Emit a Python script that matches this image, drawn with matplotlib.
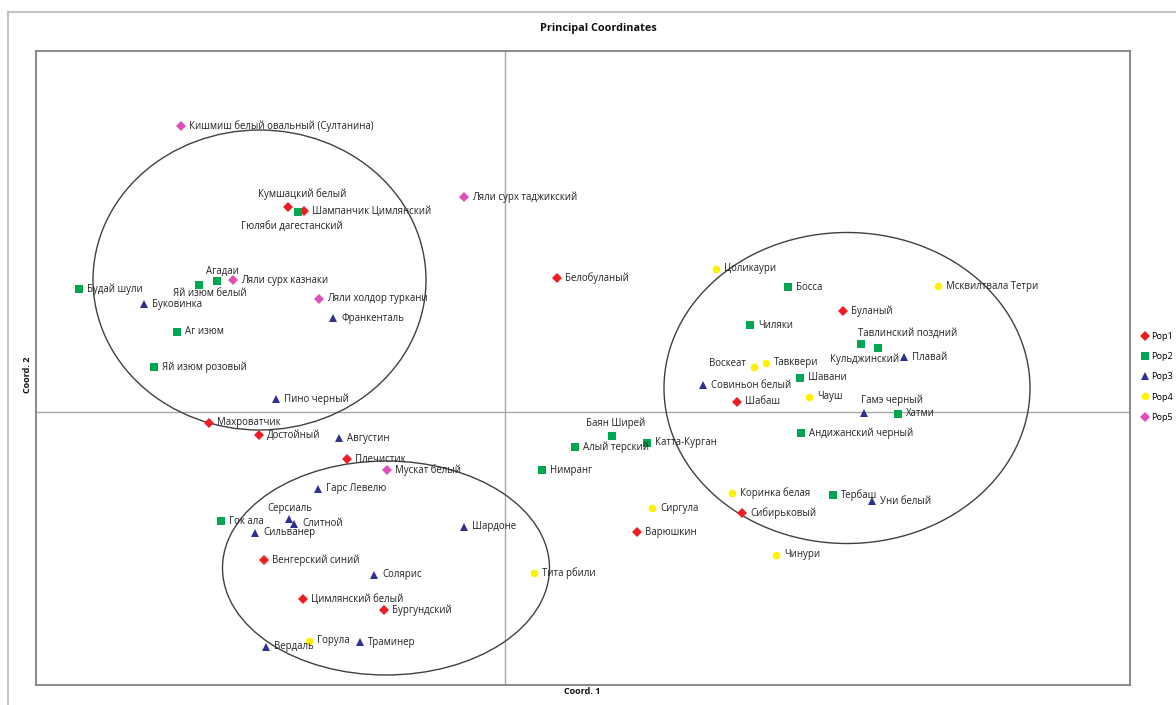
import matplotlib
matplotlib.use("Agg")
import matplotlib.pyplot as plt
from matplotlib.patches import Ellipse
from matplotlib.lines import Line2D

plt.rcParams['font.family'] = ['Open Sans', 'DejaVu Sans']

# ---------------- data ----------------
pop1_names = ["Кумшацкий белый", "Шампанчик Цимлянский", "Махроватчик", "Достойный",
              "Плечистик", "Венгерский синий", "Цимлянский белый", "Бургундский",
              "Белобуланый", "Буланый", "Шабаш", "Сибирьковый", "Варюшкин"]
pop1_x = [-1.085, -1.005, -1.48, -1.23, -0.79, -1.205, -1.01, -0.605, 0.258, 1.69, 1.16, 1.185, 0.66]
pop1_y = [1.025, 1.005, -0.055, -0.115, -0.235, -0.74, -0.935, -0.99, 0.67, 0.505, 0.05, -0.505, -0.60]

pop2_names = ["Гюляби дагестанский", "Агадаи", "Яй изюм белый", "Будай шули", "Аг изюм",
              "Яй изюм розовый", "Гок ала", "Нимранг", "Алый терский", "Баян Ширей",
              "Катта-Курган", "Босса", "Чиляки", "Тавлинский поздний", "Кульджинский",
              "Шавани", "Хатми", "Андижанский черный", "Тербаш"]
pop2_x = [-1.035, -1.44, -1.53, -2.13, -1.64, -1.755, -1.42, 0.185, 0.35, 0.535,
          0.71, 1.415, 1.225, 1.865, 1.78, 1.475, 1.965, 1.48, 1.64]
pop2_y = [1.0, 0.655, 0.635, 0.615, 0.40, 0.225, -0.545, -0.29, -0.175, -0.12,
          -0.155, 0.625, 0.435, 0.32, 0.34, 0.17, -0.01, -0.105, -0.415]

pop3_names = ["Буковинка", "Франкенталь", "Пино черный", "Августин", "Гарс Левелю",
              "Серсиаль", "Слитной", "Сильванер", "Шардоне", "Солярис", "Траминер",
              "Вердаль", "Совиньон белый", "Плавай", "Гамэ черный", "Уни белый"]
pop3_x = [-1.805, -0.86, -1.145, -0.83, -0.935, -1.08, -1.055, -1.25, -0.205, -0.655,
          -0.725, -1.195, 0.99, 1.995, 1.795, 1.835]
pop3_y = [0.54, 0.47, 0.065, -0.13, -0.385, -0.535, -0.56, -0.605, -0.575, -0.815,
          -1.15, -1.175, 0.135, 0.275, -0.005, -0.445]

pop4_names = ["Горула", "Тита рбили", "Цоликаури", "Мсквилтвала Тетри", "Воскеат",
              "Тавквери", "Чауш", "Коринка белая", "Сиргула", "Чинури"]
pop4_x = [-0.98, 0.145, 1.055, 2.165, 1.245, 1.305, 1.52, 1.135, 0.735, 1.355]
pop4_y = [-1.145, -0.805, 0.715, 0.63, 0.225, 0.245, 0.075, -0.405, -0.48, -0.715]

pop5_names = ["Кишмиш белый овальный (Султанина)", "Ляли сурх казнаки",
              "Ляли холдор туркани", "Ляли сурх таджикский", "Мускат белый"]
pop5_x = [-1.62, -1.36, -0.93, -0.205, -0.59]
pop5_y = [1.43, 0.66, 0.565, 1.075, -0.29]

legend_labels = ["Pop1", "Pop2", "Pop3", "Pop4", "Pop5"]

# ellipses (center x, center y, width, height)
ell_cx = [-1.2275, -0.595, 1.71]
ell_cy = [0.66, -0.78, 0.12]
ell_w = [1.665, 1.635, 1.83]
ell_h = [1.5, 1.07, 1.555]

# ---------------- styles ----------------
groups = [
    (pop1_names, pop1_x, pop1_y, dict(marker='D', color='#ee1c24', ms=4.8)),
    (pop2_names, pop2_x, pop2_y, dict(marker='s', color='#00a651', ms=5.6)),
    (pop3_names, pop3_x, pop3_y, dict(marker='^', color='#2e3192', ms=6.0)),
    (pop4_names, pop4_x, pop4_y, dict(marker='o', color='#fff200', ms=5.5)),
    (pop5_names, pop5_x, pop5_y, dict(marker='D', color='#e04fb8', ms=4.8)),
]

# special label placements: (dx px, dy px, ha)
label_pos = {
    "Кумшацкий белый": (14, 13, 'center'),
    "Гюляби дагестанский": (-6, -14, 'center'),
    "Агадаи": (5, 10, 'center'),
    "Яй изюм белый": (11, -8, 'center'),
    "Серсиаль": (1, 10, 'center'),
    "Баян Ширей": (4, 13, 'center'),
    "Тавлинский поздний": (30, 15, 'center'),
    "Кульджинский": (4, -15, 'center'),
    "Воскеат": (-8, 4, 'right'),
    "Гамэ черный": (28, 13, 'center'),
}

W, H = 1176, 705
fig = plt.figure(figsize=(W / 100, H / 100), dpi=100)
ax = fig.add_axes([36 / W, 1 - 685 / H, (1130 - 36) / W, (685 - 51) / H])

ax.set_xlim(-2.345, 3.125)
ax.set_ylim(-1.365, 1.805)
ax.set_xticks([])
ax.set_yticks([])
for s in ax.spines.values():
    s.set_color('#8c8c8c')
    s.set_linewidth(1.5)

ax.axvline(0, color='#a8a8a8', lw=1.0, zorder=1)
ax.axhline(0, color='#a8a8a8', lw=1.0, zorder=1)

for cx, cy, w, h in zip(ell_cx, ell_cy, ell_w, ell_h):
    ax.add_patch(Ellipse((cx, cy), w, h, fill=False, edgecolor='#404040', lw=1.0, zorder=2))

handles = []
for names, xs, ys, st in groups:
    h, = ax.plot(xs, ys, linestyle='none', marker=st['marker'], color=st['color'],
                 markersize=st['ms'], markeredgewidth=0, zorder=3)
    handles.append(h)
    for n, x, y in zip(names, xs, ys):
        dx, dy, ha = label_pos.get(n, (8, 0, 'left'))
        ax.annotate(n, (x, y), xytext=(dx, dy), textcoords='offset pixels',
                    ha=ha, va='center', fontsize=6.9, color='#222222', zorder=4)

fig.text(598 / W, 1 - 29 / H, "Principal Coordinates", ha='center', va='center',
         fontsize=7.8, fontweight='bold', color='#111111')
fig.text(582 / W, 1 - 692 / H, "Coord. 1", ha='center', va='center',
         fontsize=6.5, fontweight='bold', color='#111111')
fig.text(28 / W, 1 - 375 / H, "Coord. 2", ha='center', va='center', rotation=90,
         fontsize=6.5, fontweight='bold', color='#111111')

fig.legend(handles, legend_labels, loc='upper left',
           bbox_to_anchor=(1141 / W, 1 - 332 / H), bbox_transform=fig.transFigure,
           frameon=False, fontsize=6.6, handlelength=0.8, handletextpad=0.3,
           labelspacing=1.22, borderpad=0, borderaxespad=0)

# outer frame lines
fig.add_artist(Line2D([8 / W, 8 / W], [0, 1 - 12 / H], transform=fig.transFigure,
                      color='#c4c4c4', lw=1.5))
fig.add_artist(Line2D([8 / W, 1], [1 - 12 / H, 1 - 12 / H], transform=fig.transFigure,
                      color='#c4c4c4', lw=1.5))

fig.savefig("out.png", dpi=100, facecolor='white')
